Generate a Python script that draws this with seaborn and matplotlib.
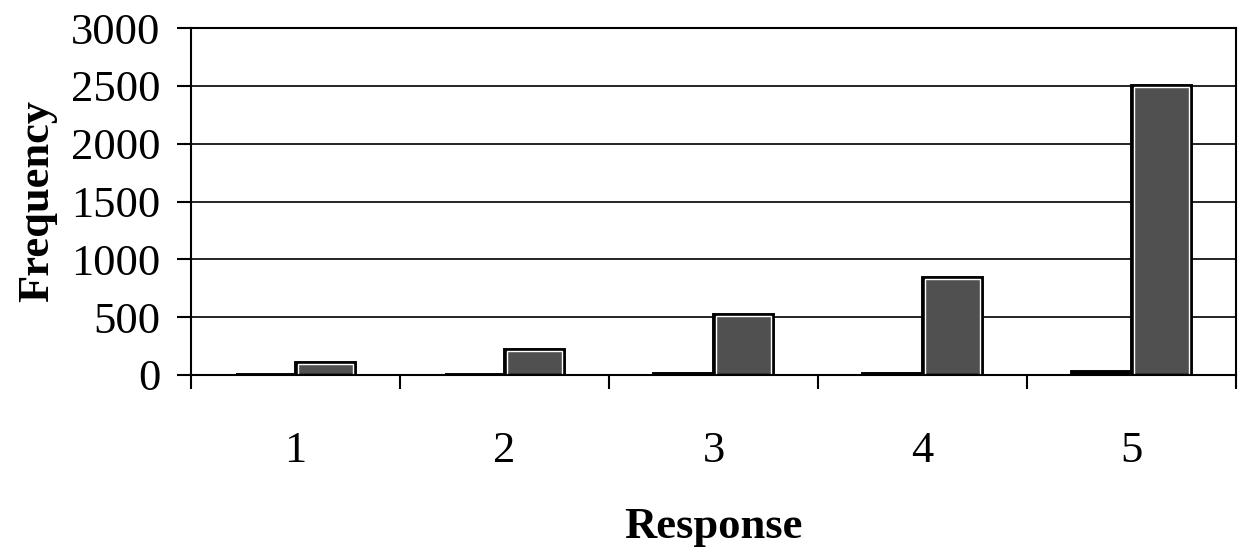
import matplotlib
matplotlib.use("Agg")
import matplotlib.pyplot as plt
import matplotlib.patches as mpatches
import seaborn as sns
import pandas as pd
import numpy as np

responses = ["1", "2", "3", "4", "5"]
series_a = [2, 3, 5, 12, 25]
series_b = [105, 220, 520, 840, 2500]
y_ticks = [0, 500, 1000, 1500, 2000, 2500, 3000]

sns.set_theme(style="white")
plt.rcParams['font.family'] = ['Liberation Serif', 'DejaVu Serif']
plt.rcParams['text.color'] = 'black'
plt.rcParams['axes.labelcolor'] = 'black'
plt.rcParams['xtick.color'] = 'black'
plt.rcParams['ytick.color'] = 'black'

df = pd.DataFrame({
    "Response": responses * 2,
    "Frequency": series_a + series_b,
    "Series": ["a"] * 5 + ["b"] * 5,
})

fig = plt.figure(figsize=(12.42, 5.56), dpi=100)
ax = fig.add_axes([191/1242, 1-375/556, (1236-191)/1242, (375-28)/556])

sns.barplot(data=df, x="Response", y="Frequency", hue="Series",
            order=responses, hue_order=["a", "b"],
            palette=["#505050", "#505050"], width=0.571, gap=0,
            edgecolor="black", linewidth=2.8, saturation=1, ax=ax, legend=False)

# thin white inner outline like the reference print
for p in list(ax.patches):
    x, y = p.get_x(), p.get_y()
    w, h = p.get_width(), p.get_height()
    if h > 60:
        inset = mpatches.Rectangle((x + 0.012, y + 12), w - 0.024, h - 24,
                                   fill=False, edgecolor="white", linewidth=1.0, zorder=p.get_zorder() + 0.1)
        ax.add_patch(inset)

ax.set_xlim(-0.5, 4.5)
ax.set_ylim(0, 3000)
ax.set_yticks(y_ticks)
ax.set_yticklabels([str(v) for v in y_ticks], fontsize=32)
ax.yaxis.grid(True, color="black", linewidth=1.2)
ax.set_axisbelow(True)

ax.set_xticks(range(5))
ax.set_xticklabels(responses, fontsize=32)
ax.set_xticks(np.arange(-0.5, 5.0, 1.0), minor=True)
ax.tick_params(axis="x", which="major", length=0, pad=40)
ax.tick_params(axis="x", which="minor", length=10, width=1.5, color="black", direction="out", bottom=True)
ax.tick_params(axis="y", which="major", length=10, width=1.5, color="black", direction="out", left=True, pad=12)

for s in ax.spines.values():
    s.set_color("black")
    s.set_linewidth(1.5)

ax.set_xlabel("Response", fontsize=32, fontweight="bold", labelpad=26)
ax.set_ylabel("Frequency", fontsize=32, fontweight="bold", labelpad=10)

fig.savefig("out.png", dpi=100)
